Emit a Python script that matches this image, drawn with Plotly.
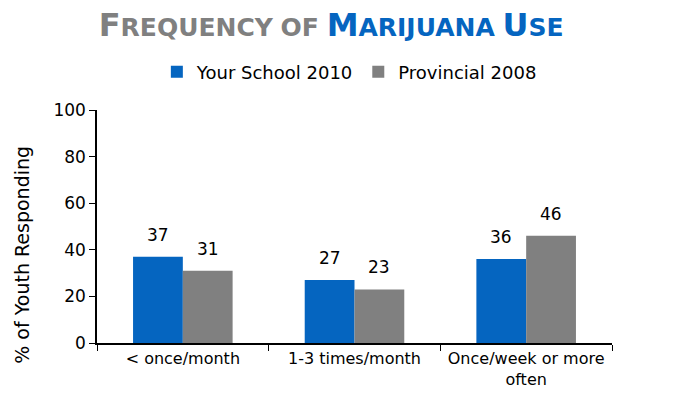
import plotly.graph_objects as go

categories = ["< once/month", "1-3 times/month", "Once/week or more<br>often"]
school_2010 = [37, 27, 36]
provincial_2008 = [31, 23, 46]
series_names = ["Your School 2010", "Provincial 2008"]
y_ticks = [0, 20, 40, 60, 80, 100]

BLUE = "#0565C0"
GRAY = "#808080"
FONT = "DejaVu Sans"

fig = go.Figure()
series = [(series_names[0], school_2010, BLUE, -24.8),
          (series_names[1], provincial_2008, GRAY, 24.8)]
for name, vals, color, _ in series:
    fig.add_trace(go.Bar(
        x=categories, y=vals, name=name,
        marker=dict(color=color, line=dict(width=0)),
    ))

# value labels above each bar
for name, vals, color, dx in series:
    for cat, v in zip(categories, vals):
        fig.add_annotation(x=cat, y=v, text=str(v), showarrow=False,
                           xshift=dx, yshift=10, yanchor="bottom",
                           font=dict(size=17, color="black", family=FONT))


def small_caps(word, color, big=32, small=25):
    return (f"<span style='font-size:{big}px;color:{color}'>{word[0]}</span>"
            f"<span style='font-size:{small}px;color:{color}'>{word[1:].upper()}</span>")


title_text = " ".join([
    small_caps("Frequency", GRAY),
    f"<span style='font-size:25px;color:{GRAY}'>OF</span>",
    small_caps("Marijuana", BLUE),
    small_caps("Use", BLUE),
])

fig.add_annotation(text="% of Youth Responding", textangle=-90, showarrow=False,
                   xref="paper", yref="paper", x=-0.146, y=0.378,
                   xanchor="center", yanchor="middle",
                   font=dict(size=19, family=FONT, color="black"))

fig.update_layout(
    width=680, height=405,
    margin=dict(l=97, r=68, t=110, b=62),
    paper_bgcolor="white", plot_bgcolor="white",
    font=dict(family=FONT, size=16, color="black"),
    title=dict(text="<b>" + title_text + "</b>", x=0.487, xanchor="center",
               y=0.93, yanchor="middle", font=dict(family=FONT)),
    barmode="group", bargap=0.42, bargroupgap=0,
    legend=dict(orientation="h", x=0.49, xanchor="center", y=1.163, yanchor="middle",
                font=dict(size=18, family=FONT), traceorder="normal"),
    showlegend=True,
    xaxis=dict(showline=True, linecolor="black", linewidth=1.5,
               ticks="outside", tickson="boundaries", ticklen=6,
               tickcolor="black", tickfont=dict(size=16), showgrid=False),
    yaxis=dict(range=[0, 100], tickvals=y_ticks, showline=True, linecolor="black",
               linewidth=1.5, ticks="outside", ticklen=6, tickcolor="black",
               showgrid=False, zeroline=False, tickfont=dict(size=17)),
)

fig.write_html("out.html")
